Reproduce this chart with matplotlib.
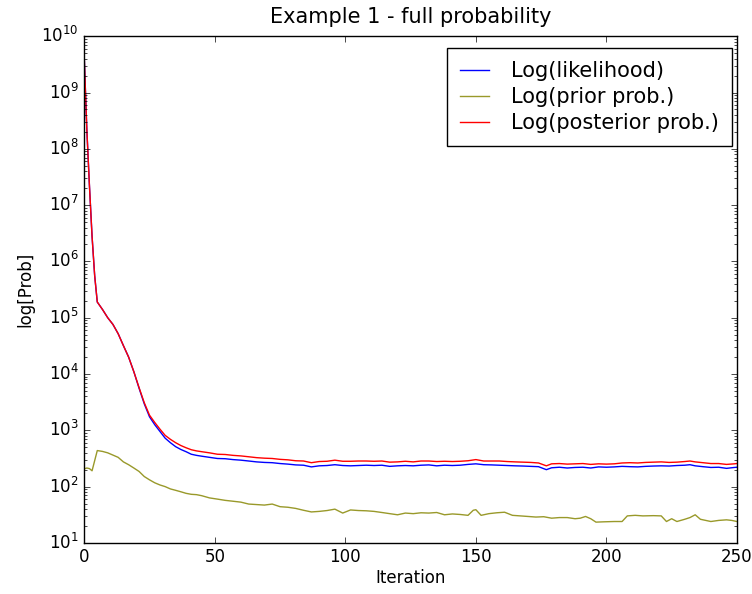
import matplotlib
matplotlib.use('Agg')
import matplotlib.pyplot as plt
import numpy as np

# iterations on which the values were read
iters = [0, 1, 2, 3, 4, 5, 7, 9, 11, 13, 15, 17, 19, 21, 23, 25, 27, 29, 31, 33,
         35, 37, 39, 41, 43, 45, 48, 51, 54, 57, 60, 63, 66, 69, 72, 75, 78, 81,
         84, 87, 90, 93, 96, 99, 102, 105, 108, 111, 114, 117, 120, 123, 126, 129,
         132, 135, 138, 141, 144, 147, 150, 153, 156, 159, 162, 165, 168, 171, 174,
         177, 179, 182, 185, 188, 191, 194, 197, 200, 203, 206, 209, 212, 215, 218,
         221, 224, 227, 230, 232, 234, 237, 240, 243, 246, 249, 250]

likelihood = [4.3e9, 2.2e8, 2.2e7, 2.8e6, 5.6e5, 1.9e5, 1.4e5, 1.0e5, 7.6e4, 5.2e4,
              3.2e4, 2.0e4, 1.1e4, 5600, 2950, 1740, 1260, 955, 725, 603,
              513, 457, 417, 376, 359, 347, 331, 316, 313, 302, 295, 285, 275, 269,
              266, 257, 251, 243, 240, 224, 234, 237, 245, 237, 234, 237, 240, 237,
              240, 229, 234, 237, 234, 240, 243, 234, 240, 237, 240, 248, 254, 245,
              243, 240, 237, 234, 232, 229, 226, 200, 216, 221, 214, 219, 221, 214,
              224, 221, 224, 229, 226, 224, 229, 232, 234, 232, 237, 240, 245, 234,
              226, 219, 221, 211, 219, 221]

posterior = [4.3e9, 2.2e8, 2.2e7, 2.8e6, 5.6e5, 1.9e5, 1.4e5, 1.0e5, 7.6e4, 5.2e4,
             3.2e4, 2.0e4, 1.1e4, 5750, 3090, 1860, 1380, 1050, 813, 692,
             603, 537, 490, 452, 431, 417, 398, 376, 372, 359, 351, 339, 327, 320,
             316, 305, 299, 288, 285, 266, 279, 282, 295, 282, 282, 285, 285, 282,
             285, 272, 275, 282, 275, 285, 285, 279, 282, 279, 282, 288, 302, 285,
             285, 285, 279, 275, 272, 269, 263, 234, 254, 257, 251, 254, 257, 248,
             254, 251, 254, 263, 266, 263, 269, 272, 275, 269, 272, 279, 285, 275,
             266, 257, 257, 248, 254, 257]

iters_prior = [0, 1, 2, 3, 5, 7, 9, 11, 13, 15, 17, 19, 21, 23, 25, 27, 29, 31, 33,
               35, 37, 39, 41, 43, 45, 48, 51, 54, 57, 60, 63, 66, 69, 72, 75, 78,
               81, 84, 87, 90, 93, 96, 99, 102, 105, 108, 111, 114, 117, 120, 123,
               126, 129, 132, 135, 138, 141, 144, 147, 149, 150, 152, 155, 158, 161,
               164, 167, 170, 173, 176, 179, 182, 185, 188, 190, 192, 194, 196, 199,
               203, 206, 208, 211, 214, 218, 221, 223, 225, 227, 230, 232, 234, 236,
               240, 243, 246, 248, 250]

prior = [207, 214, 209, 191, 437, 422, 398, 363, 331, 275, 245, 214, 186, 151, 132,
         117, 107, 100, 91, 86, 81, 76, 73, 72, 69, 63, 60, 57, 55, 53, 49, 48, 47,
         49, 44, 43, 41, 38, 35.5, 36.3, 37.6, 39.8, 33.9, 38.5, 37.6, 37.2, 36.3,
         34.7, 33.1, 31.6, 33.9, 33.1, 34.3, 33.9, 34.7, 31.6, 32.7, 32.0, 30.9,
         38.0, 38.9, 30.9, 33.1, 34.3, 35.1, 30.9, 30.2, 29.5, 28.8, 29.2, 27.5,
         28.2, 28.2, 26.9, 27.5, 29.5, 26.9, 23.4, 23.7, 24.0, 24.0, 30.2, 30.9,
         30.2, 30.5, 30.2, 24.0, 26.9, 24.0, 26.3, 28.2, 31.6, 26.3, 24.0, 25.1,
         25.7, 25.1, 24.0]

plt.style.use('classic')
plt.rcParams['font.family'] = ['DejaVu Sans']

fig = plt.figure(figsize=(7.52, 5.94), dpi=100, facecolor='white')
ax = fig.add_axes([0.112, 0.086, 0.868, 0.853])

ax.plot(iters, likelihood, color='b', lw=1.0, label='Log(likelihood)')
ax.plot(iters_prior, prior, color='#99992a', lw=1.0, label='Log(prior prob.)')
ax.plot(iters, posterior, color='r', lw=1.0, label='Log(posterior prob.)')

ax.set_yscale('log')
ax.set_xlim(0, 250)
ax.set_ylim(1e1, 1e10)
ax.set_xticks([0, 50, 100, 150, 200, 250])
ax.tick_params(labelsize=12)
ax.set_xlabel('Iteration', fontsize=12, labelpad=2)
ax.set_ylabel('log[Prob]', fontsize=12)
ax.set_title('Example 1 - full probability', fontsize=15, y=1.012)

leg = ax.legend(loc='upper right', bbox_to_anchor=(0.992, 0.977), borderaxespad=0,
                fontsize=15, numpoints=1, handlelength=1.4, handletextpad=1.05,
                labelspacing=0.3, borderpad=0.62)
leg.get_frame().set_edgecolor('black')

fig.savefig('out.png', dpi=100, facecolor='white')
